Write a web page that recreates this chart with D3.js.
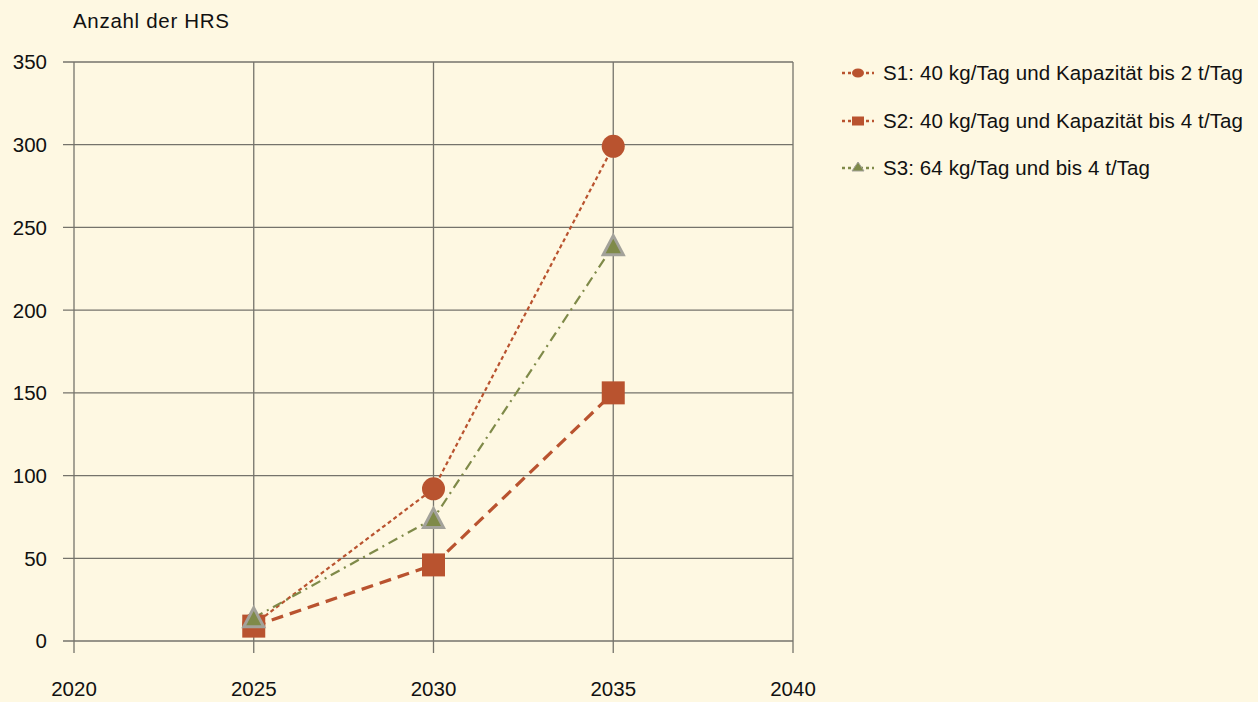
<!DOCTYPE html>
<html><head><meta charset="utf-8">
<script src="https://cdn.jsdelivr.net/npm/d3@7"></script>
<style>
html,body{margin:0;padding:0;background:#FEF8E2;}
svg{display:block;font-family:"Liberation Sans",Arial,sans-serif;}
</style></head>
<body><svg id="c" width="1258" height="702"></svg>
<script>
const years = [2025, 2030, 2035];
const s1 = [10, 92, 299];
const s2 = [9, 46, 150];
const s3 = [14, 74, 239];
const seriesNames = ["S1: 40 kg/Tag und Kapazität bis 2 t/Tag","S2: 40 kg/Tag und Kapazität bis 4 t/Tag","S3: 64 kg/Tag und bis 4 t/Tag"];
const xTicks = [2020, 2025, 2030, 2035, 2040];
const yTicks = [0, 50, 100, 150, 200, 250, 300, 350];
const yTitle = "Anzahl der HRS";

const svg = d3.select("#c");
const x = d3.scaleLinear().domain([2020, 2040]).range([74, 793]);
const y = d3.scaleLinear().domain([0, 350]).range([641, 62]);
const grid = "#75736b";
const fs = 20.5;

svg.append("g").selectAll("line").data(yTicks).join("line")
  .attr("x1", 63).attr("x2", x(2040)).attr("y1", d=>y(d)).attr("y2", d=>y(d))
  .attr("stroke", grid).attr("stroke-width", 1.3);
svg.append("g").selectAll("line").data(xTicks).join("line")
  .attr("x1", d=>x(d)).attr("x2", d=>x(d)).attr("y1", y(350)).attr("y2", 653)
  .attr("stroke", grid).attr("stroke-width", 1.3);

svg.append("g").selectAll("text").data(yTicks).join("text")
  .attr("x", 47).attr("y", d=>y(d)).attr("dy", "0.36em").attr("text-anchor", "end")
  .attr("font-size", fs).attr("fill", "#111").text(d=>d);
svg.append("g").selectAll("text").data(xTicks).join("text")
  .attr("x", d=>x(d)).attr("y", 689).attr("dy", "0.36em").attr("text-anchor", "middle")
  .attr("font-size", fs).attr("fill", "#111").text(d=>d);
svg.append("text").attr("x", 73).attr("y", 21).attr("dy", "0.36em")
  .attr("font-size", fs).attr("fill", "#111").attr("textLength", 156).text(yTitle);

const red = "#B9532F", olive = "#7F8A49", tri = "#A3A29A";
const styles = [
  {data: s1, color: red, dash: "4,3", w: 2.2, marker: "circle"},
  {data: s2, color: red, dash: "12,7", w: 3.2, marker: "square"},
  {data: s3, color: olive, dash: "10,5,2,5", w: 2.2, marker: "triangle"}
];
const line = d3.line().x((d,i)=>x(years[i])).y(d=>y(d));

function drawMarker(g, type, cx, cy, col) {
  if (type === "circle") {
    g.append("circle").attr("cx", cx).attr("cy", cy).attr("r", 11.5).attr("fill", col);
  } else if (type === "square") {
    g.append("rect").attr("x", cx-11.5).attr("y", cy-11.5).attr("width", 23).attr("height", 23).attr("fill", col);
  } else {
    g.append("path").attr("d", `M${cx},${cy-10}L${cx+10},${cy+9}L${cx-10},${cy+9}Z`)
      .attr("fill", olive).attr("stroke", tri).attr("stroke-width", 3).attr("stroke-linejoin","miter");
  }
}

styles.forEach(st => {
  svg.append("path").datum(st.data).attr("d", line).attr("fill", "none")
    .attr("stroke", st.color).attr("stroke-width", st.w).attr("stroke-dasharray", st.dash);
});
styles.forEach(st => {
  const g = svg.append("g");
  st.data.forEach((v,i) => drawMarker(g, st.marker, x(years[i]), y(v), st.color));
});

const legY = [73, 121, 168];
const legW = [360, 360, 267];
styles.forEach((st, i) => {
  const g = svg.append("g");
  g.append("line").attr("x1", 842).attr("x2", 874).attr("y1", legY[i]).attr("y2", legY[i])
    .attr("stroke", st.color).attr("stroke-width", 2.5).attr("stroke-dasharray", "3,3");
  if (st.marker === "circle") {
    g.append("ellipse").attr("cx", 858).attr("cy", legY[i]).attr("rx", 6).attr("ry", 4.5).attr("fill", st.color);
  } else if (st.marker === "square") {
    g.append("rect").attr("x", 852).attr("y", legY[i]-4.5).attr("width", 12).attr("height", 9).attr("fill", st.color);
  } else {
    g.append("path").attr("d", `M858,${legY[i]-6}L864,${legY[i]+3}L852,${legY[i]+3}Z`).attr("fill", olive).attr("stroke", tri).attr("stroke-width", 1);
  }
  g.append("text").attr("x", 883).attr("y", legY[i]).attr("dy", "0.36em")
    .attr("font-size", fs).attr("fill", "#111").attr("textLength", legW[i]).text(seriesNames[i]);
});
</script></body></html>
